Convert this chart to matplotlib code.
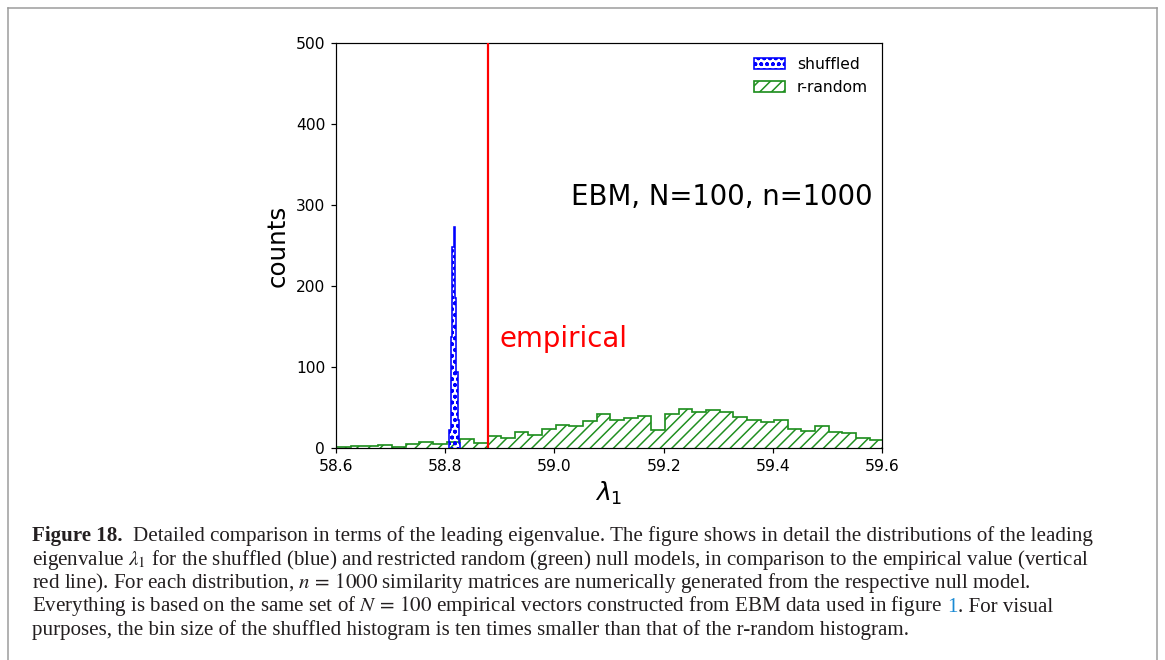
import numpy as np
import matplotlib
matplotlib.use("Agg")
import matplotlib.pyplot as plt
from matplotlib.lines import Line2D

# ---------------- data ----------------
# r-random null model: counts per bin (bin width 0.025)
green_start = 58.5775
green_width = 0.025
green_counts = [1, 1, 2, 2, 4, 1, 5, 7, 5, 7,
                11, 6, 15, 12, 20, 16, 23, 28, 27, 33,
                42, 34, 37, 40, 22, 42, 48, 45, 47, 44,
                38, 35, 32, 35, 23, 21, 27, 20, 18, 12, 10]

# shuffled null model: counts per bin (bin width ten times smaller)
blue_start = 58.8078
blue_width = 0.0025
blue_counts = [22, 137, 248, 273, 185, 94, 35, 6]

empirical_value = 58.8775

x_ticks = [58.6, 58.8, 59.0, 59.2, 59.4, 59.6]
y_ticks = [0, 100, 200, 300, 400, 500]
x_range = (58.6, 59.6)
y_range = (0, 500)

legend_labels = ["shuffled", "r-random"]
annotation_text = "EBM, N=100, n=1000"
annotation_pos = (59.03, 300)
empirical_label = "empirical"
empirical_label_pos = (58.9, 125)

caption_lines = [
    [("Figure 18.", "bold"), ("  Detailed comparison in terms of the leading eigenvalue. The figure shows in detail the distributions of the leading", "normal")],
    [("eigenvalue $\\lambda_1$ for the shuffled (blue) and restricted random (green) null models, in comparison to the empirical value (vertical", "normal")],
    [("red line). For each distribution, $n\\,=\\,1000$ similarity matrices are numerically generated from the respective null model.", "normal")],
    [("Everything is based on the same set of $N\\,=\\,100$ empirical vectors constructed from EBM data used in figure ", "normal"), ("1", "link"), (". For visual", "normal")],
    [("purposes, the bin size of the shuffled histogram is ten times smaller than that of the r-random histogram.", "normal")],
]

# ---------------- layout ----------------
DPI = 140
W, H = 1165, 660


def pt(px):
    return px * 72.0 / DPI


plt.rcParams['font.family'] = ['DejaVu Sans']
plt.rcParams['hatch.linewidth'] = pt(1.5)
fig = plt.figure(figsize=(W / DPI, H / DPI), dpi=DPI)
fig.patch.set_facecolor('white')

ax = fig.add_axes([336 / W, 1 - 448 / H, 546 / W, 405 / H])

blue_edges = blue_start + blue_width * np.arange(len(blue_counts) + 1)
green_edges = green_start + green_width * np.arange(len(green_counts) + 1)

ax.hist(blue_edges[:-1], bins=blue_edges, weights=blue_counts, histtype='step',
        hatch='oooo', color='blue', linewidth=pt(1.6), label=legend_labels[0], zorder=3)
ax.hist(green_edges[:-1], bins=green_edges, weights=green_counts, histtype='step',
        hatch='////', color='#1f8f1f', linewidth=pt(1.7), label=legend_labels[1], zorder=2)
ax.axvline(empirical_value, color='red', linewidth=pt(2.2), zorder=4)

ax.set_xlim(*x_range)
ax.set_ylim(*y_range)
ax.set_xticks(x_ticks)
ax.set_xticklabels([f"{v:.1f}" for v in x_ticks])
ax.set_yticks(y_ticks)
ax.tick_params(labelsize=pt(15.5), length=pt(5.4), width=pt(1.2), pad=pt(5.4))
for s in ax.spines.values():
    s.set_linewidth(pt(1.2))

ax.set_xlabel(r'$\lambda_1$', fontsize=pt(25), labelpad=pt(6))
ax.set_ylabel('counts', fontsize=pt(24.5), labelpad=pt(6))

ax.text(*annotation_pos, annotation_text, fontsize=pt(27.5), va='baseline', ha='left')
ax.text(*empirical_label_pos, empirical_label, fontsize=pt(27.5), va='baseline', ha='left', color='red')

ax.legend(loc='upper right', frameon=False, fontsize=pt(15.5))

# ---------------- frame ----------------
frame_kw = dict(color='#9a9a9a', linewidth=pt(1.5), transform=None)
fig.add_artist(Line2D([8, 1157], [H - 8, H - 8], **frame_kw))
fig.add_artist(Line2D([8, 8], [H - 8, 0], **frame_kw))
fig.add_artist(Line2D([1157, 1157], [H - 8, 0], **frame_kw))

# ---------------- caption ----------------
renderer = fig.canvas.get_renderer()
cap_family = 'Liberation Serif'
cap_color = '#231f20'
link_color = '#1a8ad4'


def style_kw(kind, size):
    kw = dict(fontsize=size, family=cap_family, math_fontfamily='stix', color=cap_color)
    if kind == 'bold':
        kw['fontweight'] = 'bold'
    if kind == 'link':
        kw['color'] = link_color
    return kw


def width_of(s, **kw):
    t = fig.text(0, 0, s, **kw)
    w = t.get_window_extent(renderer).width
    t.remove()
    return w


def line_width(pieces, size):
    total = 0.0
    for s, kind in pieces:
        kw = style_kw(kind, size)
        sw = width_of("a a", **kw) - width_of("aa", **kw)
        lead = len(s) - len(s.lstrip(' '))
        trail = len(s) - len(s.rstrip(' '))
        total += lead * sw + width_of(s.strip(' '), **kw) + trail * sw
    return total


trial = 12.0
size = trial * 1065.0 / line_width(caption_lines[0], trial)

baselines = [541, 564.5, 588, 611.5, 635]
x0 = 32
for pieces, yb in zip(caption_lines, baselines):
    x = x0
    for s, kind in pieces:
        kw = style_kw(kind, size)
        sw = width_of("a a", **kw) - width_of("aa", **kw)
        lead = len(s) - len(s.lstrip(' '))
        trail = len(s) - len(s.rstrip(' '))
        x += lead * sw
        core = s.strip(' ')
        fig.text(x / W, 1 - yb / H, core, va='baseline', ha='left', **kw)
        x += width_of(core, **kw) + trail * sw

fig.savefig('out.png', dpi=DPI)
